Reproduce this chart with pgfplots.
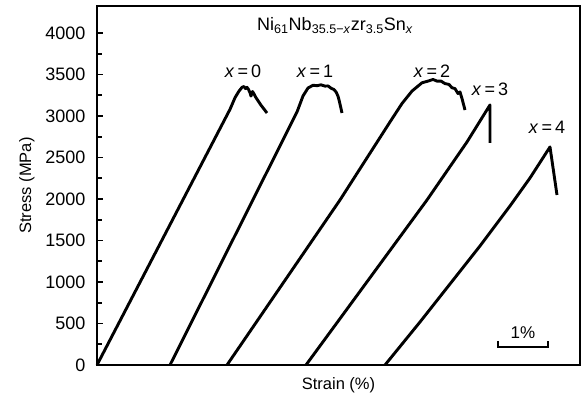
\documentclass[border=0pt]{standalone}
\usepackage{pgfplots}
\pgfplotsset{compat=1.18}
\usepackage{fontspec}
\setmainfont{Liberation Sans}
\begin{document}
\begin{tikzpicture}
\begin{axis}[
  width=483pt, height=359pt, scale only axis,
  xmin=0, xmax=9.66, ymin=0, ymax=4325,
  xtick=\empty,
  ytick={0,500,...,4000},
  minor ytick={250,750,...,3750},
  ytick pos=left,
  tick align=inside,
  major tick length=6pt, minor tick length=5pt,
  every tick/.style={line width=1.6pt, black},
  axis line style={line width=2.4pt},
  /pgf/number format/assume math mode=true,
  /pgf/number format/1000 sep={},
  tick label style={font=\fontsize{18}{20}\selectfont},
  yticklabel style={xshift=-8pt},
  label style={font=\fontsize{16.5}{19}\selectfont},
  xlabel={Strain (\%)},
  ylabel={Stress (MPa)},
  xlabel style={yshift=-9pt},
  ylabel style={yshift=4pt},
  clip=false,
]
\addplot[black, line width=2.9pt, line join=round] coordinates {
(0,0) (2.66,3080) (2.76,3220) (2.84,3300) (2.90,3345) (2.94,3355)
(2.97,3330) (3.00,3345) (3.03,3320) (3.06,3280) (3.08,3240) (3.11,3295)
(3.14,3265) (3.18,3220) (3.28,3130) (3.40,3036)};
\addplot[black, line width=2.9pt, line join=round] coordinates {
(1.46,0) (4.00,3048) (4.12,3241) (4.22,3337) (4.32,3370) (4.40,3365) (4.48,3375)
(4.56,3360) (4.62,3362) (4.68,3335) (4.74,3318) (4.78,3290) (4.82,3240)
(4.85,3170) (4.90,3036)};
\addplot[black, line width=2.9pt, line join=round] coordinates {
(2.60,0) (4.86,1988) (5.86,2928) (6.10,3150) (6.30,3300) (6.50,3400) (6.62,3420)
(6.72,3440) (6.80,3420) (6.88,3420) (6.96,3390) (7.04,3380) (7.10,3340)
(7.16,3330) (7.22,3270) (7.26,3290) (7.30,3210) (7.36,3072)};
\addplot[black, line width=2.9pt, line join=round] coordinates {
(4.18,0) (6.60,1988) (7.40,2687) (7.86,3133) (7.86,2675)};
\addplot[black, line width=2.9pt, line join=round] coordinates {
(5.76,0) (6.46,518) (7.06,976) (7.66,1434) (8.26,1916) (8.66,2253) (9.06,2627) (9.20,2048)};
\node[font=\fontsize{18}{20}\selectfont] at (rel axis cs:0.493,0.945)
  {Ni\textsubscript{61}Nb\textsubscript{35.5−\textit{x}}zr\textsubscript{3.5}Sn\textsubscript{\textit{x}}};
\node[font=\fontsize{18}{20}\selectfont] at (axis cs:2.92,3542) {\textit{x}\,=\,0};
\node[font=\fontsize{18}{20}\selectfont] at (axis cs:4.36,3542) {\textit{x}\,=\,1};
\node[font=\fontsize{18}{20}\selectfont] at (axis cs:6.70,3542) {\textit{x}\,=\,2};
\node[font=\fontsize{18}{20}\selectfont] at (axis cs:7.86,3325) {\textit{x}\,=\,3};
\node[font=\fontsize{18}{20}\selectfont] at (axis cs:9.00,2867) {\textit{x}\,=\,4};
\draw[line width=2pt] (axis cs:8.02,290) -- (axis cs:8.02,217) -- (axis cs:9.02,217) -- (axis cs:9.02,290);
\node[font=\fontsize{17}{19}\selectfont] at (axis cs:8.52,385) {1\%};
\end{axis}
\pgfresetboundingbox
\path ([xshift=-97pt,yshift=-36pt]current axis.south west) rectangle ([xshift=4pt,yshift=6pt]current axis.north east);
\end{tikzpicture}
\end{document}
